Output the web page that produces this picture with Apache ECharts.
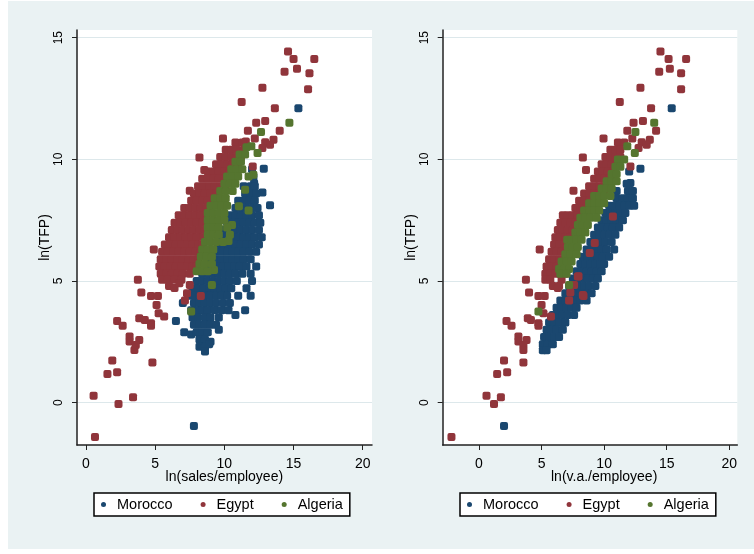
<!DOCTYPE html>
<html>
<head>
<meta charset="utf-8">
<script src="https://cdn.jsdelivr.net/npm/echarts@6/dist/echarts.min.js"></script>
<style>
  html, body { margin: 0; padding: 0; background: #fff; }
  #bg { position: absolute; left: 8px; top: 1px; width: 746px; height: 548px; background: #eaf2f3; }
  #chart { position: absolute; left: 0; top: 0; width: 754px; height: 554px; }
</style>
</head>
<body>
<div id="bg"></div>
<div id="chart"></div>
<script>
// legend / series names
var countries = ['Morocco', 'Egypt', 'Algeria'];
var xTicks = [0, 5, 10, 15, 20];
var yTicks = [0, 5, 10, 15];

// left panel: [ln(sales/employee), ln(TFP)]
var moroccoSales = [
  [15.35,12.1],[12.85,9.62],[12.15,9.03],[12.75,8.64],[13.3,8.12],[7.8,-0.96],[6.5,3.36],
  [12.0,9.6],[12.1,9.3],[11.4,8.9],[11.9,8.9],[12.2,8.9],[11.5,8.6],[11.9,8.6],[12.3,8.6],
  [11.0,8.3],[11.4,8.3],[11.8,8.3],[12.2,8.3],
  [10.8,8.0],[11.2,8.0],[11.6,8.0],[12.0,8.0],[12.4,8.0],
  [10.4,7.7],[10.8,7.7],[11.2,7.7],[11.6,7.7],[12.0,7.7],[12.5,7.7],
  [10.2,7.4],[10.6,7.4],[11.0,7.4],[11.4,7.4],[11.8,7.4],[12.2,7.4],[12.6,7.4],
  [10.0,7.1],[10.4,7.1],[10.8,7.1],[11.2,7.1],[11.6,7.1],[12.0,7.1],[12.5,7.1],
  [9.8,6.8],[10.2,6.8],[10.6,6.8],[11.0,6.8],[11.4,6.8],[11.8,6.8],[12.2,6.8],[12.7,6.8],
  [9.6,6.5],[10.0,6.5],[10.4,6.5],[10.8,6.5],[11.2,6.5],[11.6,6.5],[12.0,6.5],[12.5,6.5],
  [9.4,6.2],[9.8,6.2],[10.2,6.2],[10.6,6.2],[11.0,6.2],[11.4,6.2],[11.8,6.2],[12.3,6.2],
  [9.0,5.9],[9.4,5.9],[9.8,5.9],[10.2,5.9],[10.6,5.9],[11.0,5.9],[11.4,5.9],[11.9,5.9],
  [8.7,5.6],[9.1,5.6],[9.5,5.6],[9.9,5.6],[10.3,5.6],[10.7,5.6],[11.1,5.6],[11.6,5.6],[12.3,5.6],
  [8.4,5.3],[8.8,5.3],[9.2,5.3],[9.6,5.3],[10.0,5.3],[10.4,5.3],[10.8,5.3],[11.3,5.3],[11.9,5.3],
  [8.0,5.0],[8.4,5.0],[8.8,5.0],[9.2,5.0],[9.6,5.0],[10.0,5.0],[10.4,5.0],[10.9,5.0],[12.0,5.0],
  [7.7,4.7],[8.1,4.7],[8.5,4.7],[8.9,4.7],[9.3,4.7],[9.7,4.7],[10.1,4.7],[10.5,4.7],[11.6,4.7],
  [7.4,4.4],[7.8,4.4],[8.2,4.4],[8.6,4.4],[9.0,4.4],[9.4,4.4],[9.8,4.4],[10.2,4.4],[11.0,4.4],[11.9,4.4],
  [7.0,4.1],[7.8,4.1],[8.2,4.1],[8.6,4.1],[9.0,4.1],[9.4,4.1],[9.9,4.1],[10.4,4.1],
  [7.6,3.8],[8.0,3.8],[8.4,3.8],[8.8,3.8],[9.3,3.8],[9.8,3.8],[10.3,3.8],[11.5,3.8],
  [7.7,3.5],[8.1,3.5],[8.6,3.5],[9.0,3.5],[9.6,3.5],[10.8,3.6],
  [7.8,3.2],[8.2,3.2],[8.6,3.2],[9.0,3.2],[9.4,3.2],
  [7.1,2.9],[7.6,2.8],[8.0,2.9],[8.4,2.9],[8.8,2.9],[9.6,3.0],
  [8.2,2.6],[8.6,2.6],[9.0,2.5],[8.2,2.3],[8.6,2.3],[8.9,2.4],[8.6,2.1]
];
var egyptSales = [
  [14.6,14.44],[15.0,14.13],[16.5,14.13],[14.35,13.6],[15.25,13.73],[16.15,13.54],[16.05,12.88],
  [12.75,12.95],[11.25,12.36],[13.65,12.1],[12.3,11.51],[12.95,11.58],[11.7,11.18],[14.0,11.18],
  [12.2,10.86],[9.9,10.86],[12.95,10.71],[13.55,10.81],[13.3,10.6],[12.75,10.47],[8.2,10.08],
  [8.55,9.56],[7.5,8.71],[4.9,6.3],[12.05,9.71],[11.55,10.74],
  [10.8,10.7],[11.3,10.7],
  [10.1,10.4],[10.5,10.4],[10.9,10.4],[11.4,10.4],
  [9.7,10.1],[10.1,10.1],[10.5,10.1],[10.9,10.1],[11.2,10.1],
  [9.4,9.8],[9.8,9.8],[10.2,9.8],[10.6,9.8],[11.0,9.8],
  [8.8,9.5],[9.2,9.5],[9.6,9.5],[10.0,9.5],[10.4,9.5],[10.8,9.5],
  [8.4,9.2],[8.8,9.2],[9.2,9.2],[9.6,9.2],[10.0,9.2],[10.4,9.2],
  [8.1,8.9],[8.5,8.9],[8.9,8.9],[9.3,8.9],[9.7,8.9],[10.1,8.9],
  [7.8,8.6],[8.2,8.6],[8.6,8.6],[9.0,8.6],[9.4,8.6],
  [7.6,8.3],[8.0,8.3],[8.4,8.3],[8.8,8.3],[9.2,8.3],
  [7.1,8.0],[7.5,8.0],[7.9,8.0],[8.3,8.0],[8.7,8.0],[9.0,8.0],
  [6.7,7.7],[7.1,7.7],[7.5,7.7],[7.9,7.7],[8.3,7.7],[8.7,7.7],
  [6.4,7.4],[6.8,7.4],[7.2,7.4],[7.6,7.4],[8.0,7.4],[8.4,7.4],[8.7,7.4],
  [6.2,7.1],[6.6,7.1],[7.0,7.1],[7.4,7.1],[7.8,7.1],[8.2,7.1],[8.6,7.1],
  [6.0,6.8],[6.4,6.8],[6.8,6.8],[7.2,6.8],[7.6,6.8],[8.0,6.8],[8.5,6.8],
  [5.7,6.5],[6.1,6.5],[6.5,6.5],[6.9,6.5],[7.3,6.5],[7.7,6.5],[8.1,6.5],[8.4,6.5],
  [5.5,6.2],[5.9,6.2],[6.3,6.2],[6.7,6.2],[7.1,6.2],[7.5,6.2],[7.9,6.2],[8.3,6.2],
  [5.4,5.9],[5.8,5.9],[6.2,5.9],[6.6,5.9],[7.0,5.9],[7.4,5.9],[7.8,5.9],[8.1,5.9],
  [5.3,5.6],[5.7,5.6],[6.1,5.6],[6.5,5.6],[6.9,5.6],[7.3,5.6],[7.7,5.6],[8.0,5.6],
  [5.4,5.3],[5.8,5.3],[6.2,5.3],[6.6,5.3],[7.0,5.3],[7.5,5.3],
  [5.5,5.05],[5.9,5.05],[6.4,5.05],[6.9,5.05],[6.0,4.8],[7.5,4.84],
  [6.4,4.71],[6.75,4.91],[7.15,4.2],[7.3,4.5],[8.3,4.39],
  [3.75,5.05],[4.0,4.53],[4.7,4.39],[5.2,4.39],[5.1,4.02],[5.25,3.68],[5.65,3.54],
  [3.85,3.47],[4.25,3.4],[4.7,3.27],[4.7,3.16],[2.25,3.36],[2.65,3.16],[3.15,2.72],
  [3.15,2.51],[3.85,2.58],[3.6,2.37],[3.5,2.17],[1.9,1.73],[4.8,1.65],[1.55,1.18],
  [2.25,1.25],[0.55,0.28],[3.4,0.22],[2.35,-0.05],[0.65,-1.41]
];
var algeriaSales = [
  [14.7,11.51],[12.65,11.13],[12.4,10.26],[11.95,10.54],[7.6,3.75],[9.1,4.84],
  [12.1,9.37],[11.75,9.3],[11.5,8.75],[11.05,8.07],[11.75,7.9],[10.55,7.3],[10.3,6.65],[9.25,5.45],
  [11.6,10.5],[11.1,10.2],[11.5,10.2],[10.8,9.9],[11.2,9.9],
  [10.5,9.6],[10.9,9.6],[11.3,9.6],[10.2,9.3],[10.6,9.3],[11.0,9.3],
  [10.0,9.0],[10.4,9.0],[10.8,9.0],[9.7,8.7],[10.1,8.7],[10.6,8.7],
  [9.3,8.4],[9.7,8.4],[10.1,8.4],[9.0,8.1],[9.4,8.1],[9.8,8.1],[10.2,8.1],
  [8.8,7.8],[9.2,7.8],[9.6,7.8],[10.0,7.8],[8.8,7.5],[9.2,7.5],[9.6,7.5],[10.0,7.5],
  [8.8,7.2],[9.2,7.2],[9.6,7.2],[10.2,7.2],[8.8,6.9],[9.2,6.9],[9.6,6.9],[10.4,6.9],
  [8.6,6.6],[9.0,6.6],[9.4,6.6],[9.9,6.6],[8.4,6.3],[8.8,6.3],[9.2,6.3],
  [8.3,6.0],[8.7,6.0],[9.1,6.0],[8.2,5.7],[8.6,5.7],[9.1,5.7],[8.0,5.4],[8.4,5.4],[8.8,5.4]
];

// right panel: [ln(v.a./employee), ln(TFP)]
var moroccoVA = [
  [15.4,12.1],[12.9,9.62],[12.1,9.03],[2.0,-0.96],
  [12.0,9.5],[11.8,9.0],[11.0,8.7],[11.9,8.7],[12.3,8.7],
  [11.0,8.4],[11.5,8.4],[11.9,8.4],[12.3,8.4],
  [10.4,8.1],[10.8,8.1],[11.2,8.1],[11.6,8.1],[12.0,8.1],[12.4,8.1],
  [10.1,7.8],[10.5,7.8],[10.9,7.8],[11.3,7.8],[11.7,7.8],
  [9.8,7.5],[10.2,7.5],[10.6,7.5],[11.0,7.5],[11.5,7.5],
  [9.5,7.2],[9.9,7.2],[10.3,7.2],[10.7,7.2],[11.2,7.2],
  [9.2,6.9],[9.6,6.9],[10.0,6.9],[10.4,6.9],[10.9,6.9],
  [8.9,6.6],[9.3,6.6],[9.7,6.6],[10.1,6.6],[10.6,6.6],
  [8.6,6.3],[9.0,6.3],[9.4,6.3],[9.8,6.3],[10.2,6.3],[10.8,6.3],
  [8.3,6.0],[8.7,6.0],[9.1,6.0],[9.5,6.0],[9.9,6.0],[10.4,6.0],
  [8.1,5.7],[8.5,5.7],[8.9,5.7],[9.3,5.7],[9.7,5.7],[10.0,5.7],
  [7.8,5.4],[8.2,5.4],[8.6,5.4],[9.0,5.4],[9.4,5.4],[9.8,5.4],
  [7.5,5.1],[7.9,5.1],[8.3,5.1],[8.7,5.1],[9.1,5.1],[9.5,5.1],
  [7.2,4.8],[7.6,4.8],[8.0,4.8],[8.4,4.8],[8.8,4.8],[9.3,4.8],
  [6.9,4.5],[7.3,4.5],[7.7,4.5],[8.1,4.5],[8.5,4.5],[9.0,4.5],
  [6.5,4.2],[6.9,4.2],[7.3,4.2],[7.7,4.2],[8.1,4.2],[8.6,4.2],
  [6.2,3.9],[6.6,3.9],[7.0,3.9],[7.4,3.9],[7.8,3.9],
  [5.9,3.6],[6.3,3.6],[6.7,3.6],[7.1,3.6],[7.6,3.6],
  [5.6,3.3],[6.0,3.3],[6.4,3.3],[6.9,3.3],
  [5.4,3.0],[5.8,3.0],[6.2,3.0],[6.7,3.0],
  [5.2,2.7],[5.6,2.7],[6.0,2.7],[6.4,2.7],
  [5.1,2.4],[5.5,2.4],[5.9,2.4],[5.1,2.15],[5.4,2.15]
];
var egyptVA = [
  [14.5,14.44],[15.15,14.13],[16.55,14.13],[14.4,13.6],[15.25,13.73],[16.15,13.54],[16.15,12.88],
  [12.9,12.95],[11.25,12.36],[13.75,12.1],[12.35,11.51],[13.1,11.58],[11.85,11.18],[14.15,11.18],
  [12.25,10.86],[9.95,10.86],[13.0,10.71],[13.65,10.81],[13.4,10.6],[12.75,10.47],[8.3,10.08],
  [8.55,9.56],[7.55,8.71],[4.85,6.3],[12.1,9.71],
  [11.1,10.7],[11.6,10.7],[10.5,10.4],[10.9,10.4],[11.3,10.4],
  [10.1,10.1],[10.5,10.1],[10.9,10.1],[11.3,10.1],
  [9.8,9.8],[10.2,9.8],[10.6,9.8],[11.0,9.8],
  [9.5,9.5],[9.9,9.5],[10.3,9.5],[10.7,9.5],
  [9.2,9.2],[9.6,9.2],[10.0,9.2],[10.4,9.2],[10.8,9.2],
  [8.8,8.9],[9.2,8.9],[9.6,8.9],[10.0,8.9],[10.4,8.9],
  [8.4,8.6],[8.8,8.6],[9.2,8.6],[9.6,8.6],[10.0,8.6],
  [8.0,8.3],[8.4,8.3],[8.8,8.3],[9.2,8.3],[9.6,8.3],
  [7.7,8.0],[8.1,8.0],[8.5,8.0],[8.9,8.0],[9.3,8.0],
  [6.7,7.7],[7.1,7.7],[7.5,7.7],[7.9,7.7],[8.3,7.7],
  [6.5,7.4],[6.9,7.4],[7.3,7.4],[7.7,7.4],[8.1,7.4],
  [6.3,7.1],[6.7,7.1],[7.1,7.1],[7.5,7.1],[7.9,7.1],
  [6.1,6.8],[6.5,6.8],[6.9,6.8],[7.3,6.8],[7.7,6.8],
  [6.0,6.5],[6.4,6.5],[6.8,6.5],[7.2,6.5],[7.7,6.5],
  [5.8,6.2],[6.2,6.2],[6.6,6.2],[7.0,6.2],[7.5,6.2],
  [5.6,5.9],[6.0,5.9],[6.4,5.9],[6.8,5.9],[7.2,5.9],
  [5.4,5.6],[5.8,5.6],[6.2,5.6],[6.6,5.6],[7.0,5.6],
  [5.3,5.3],[5.7,5.3],[6.1,5.3],[6.5,5.3],[6.9,5.3],
  [5.3,5.05],[5.7,5.05],[6.6,5.05],[5.9,4.8],[6.4,4.8],
  [7.6,4.84],[7.3,4.53],[7.2,4.2],[8.35,4.39],[7.9,5.19],[6.3,4.71],
  [10.7,7.65],[9.25,6.56],[8.85,6.15],[7.95,5.2],[8.3,4.43],[5.75,3.54],
  [3.75,5.05],[4.0,4.53],[4.75,4.39],[5.25,4.39],[5.0,4.02],[5.15,3.68],
  [3.9,3.47],[4.15,3.4],[4.75,3.27],[4.75,3.16],[2.2,3.36],[2.6,3.16],[3.15,2.72],
  [3.15,2.51],[3.8,2.58],[3.55,2.37],[3.55,2.17],[2.0,1.73],[3.55,1.65],[1.45,1.18],
  [2.25,1.25],[0.6,0.28],[1.75,0.22],[1.2,-0.05],[-2.2,-1.41]
];
var algeriaVA = [
  [14.0,11.51],[12.5,11.13],[12.45,10.26],[11.85,10.54],[4.75,3.75],[7.2,4.84],[7.05,6.7],
  [11.1,10.0],[11.6,10.0],[10.9,9.7],[11.3,9.7],[10.6,9.4],[11.0,9.4],
  [10.2,9.1],[10.6,9.1],[11.0,9.1],[9.8,8.8],[10.2,8.8],[10.6,8.8],
  [9.2,8.5],[9.6,8.5],[10.0,8.5],[10.5,8.5],[8.8,8.2],[9.2,8.2],[9.6,8.2],[10.0,8.2],
  [8.4,7.9],[8.8,7.9],[9.2,7.9],[9.6,7.9],[8.1,7.6],[8.5,7.6],[8.9,7.6],[9.4,7.6],
  [7.9,7.3],[8.3,7.3],[8.7,7.3],[7.7,7.0],[8.1,7.0],[8.5,7.0],
  [7.4,6.7],[7.8,6.7],[8.2,6.7],[7.1,6.4],[7.5,6.4],[7.9,6.4],
  [6.9,6.1],[7.3,6.1],[7.8,6.1],[6.6,5.8],[7.0,5.8],[7.4,5.8],
  [6.4,5.5],[6.8,5.5],[7.2,5.5],[6.5,5.3],[7.0,5.3]
];

var colors = ['#1a476f', '#90353b', '#55752f'];
var font = 'Liberation Sans, Arial, sans-serif';
var axisColor = '#222';

// pixel layout of each panel: data grid, x tick grid (0..20), y tick grid (0..15)
function panelGrids(left, right, x0px, x20px) {
  var top = 30, bottom = 445;
  return [
    { left: left, top: top, width: right - left, height: bottom - top, show: true, backgroundColor: '#fff', borderWidth: 0 },
    { left: x0px, top: top, width: x20px - x0px, height: bottom - top },
    { left: left, top: 37.7, width: right - left, height: 402.7 - 37.7 }
  ];
}

function panelAxes(xmin, xmax, xName) {
  var xAxes = [
    { type: 'value', min: xmin, max: xmax, axisLine: { onZero: false, lineStyle: { color: axisColor, width: 1.5 } },
      axisTick: { show: false }, axisLabel: { show: false }, splitLine: { show: false } },
    { type: 'value', min: xTicks[0], max: xTicks[xTicks.length - 1], interval: xTicks[1] - xTicks[0],
      axisLine: { show: false },
      axisTick: { length: 5, lineStyle: { color: axisColor, width: 1 } },
      axisLabel: { margin: 12, fontSize: 14, color: '#000', fontFamily: font },
      splitLine: { show: false },
      name: xName, nameLocation: 'middle', nameGap: 25, nameMoveOverlap: false,
      nameTextStyle: { fontSize: 14, color: '#000', fontFamily: font } },
    { type: 'value', show: false, min: 0, max: 1 }
  ];
  var yAxes = [
    { type: 'value', min: -1.74, max: 15.32, axisLine: { show: true, onZero: false, lineStyle: { color: axisColor, width: 1.5 } },
      axisTick: { show: false }, axisLabel: { show: false }, splitLine: { show: false },
      name: 'ln(TFP)', nameLocation: 'middle', nameGap: 25,
      nameTextStyle: { fontSize: 14, color: '#000', fontFamily: font } },
    { type: 'value', show: false, min: 0, max: 1 },
    { type: 'value', min: yTicks[0], max: yTicks[yTicks.length - 1], interval: yTicks[1] - yTicks[0],
      axisLine: { show: false },
      axisTick: { length: 5, lineStyle: { color: axisColor, width: 1 } },
      axisLabel: { rotate: 90, margin: 12, fontSize: 12, color: '#000', fontFamily: font },
      splitLine: { show: true, lineStyle: { color: '#dde8eb', width: 1.2 } } }
  ];
  return { x: xAxes, y: yAxes };
}

var leftGrids = panelGrids(77, 372, 86, 362.7);
var rightGrids = panelGrids(442.7, 737.3, 479, 729.3);
var leftAxes = panelAxes(-0.65, 20.67, 'ln(sales/employee)');
var rightAxes = panelAxes(-2.9, 20.64, 'ln(v.a./employee)');

var xAxis = leftAxes.x.concat(rightAxes.x);
var yAxis = leftAxes.y.concat(rightAxes.y);
xAxis.forEach(function (a, i) { a.gridIndex = i; });
yAxis.forEach(function (a, i) { a.gridIndex = i; });

function scatter(name, data, color, axisIdx) {
  return {
    name: name, type: 'scatter', data: data,
    xAxisIndex: axisIdx, yAxisIndex: axisIdx,
    symbol: 'roundRect', symbolSize: 8,
    itemStyle: { color: color, opacity: 1 },
    emphasis: { disabled: true }
  };
}

var series = [
  scatter(countries[0], moroccoSales, colors[0], 0),
  scatter(countries[1], egyptSales, colors[1], 0),
  scatter(countries[2], algeriaSales, colors[2], 0),
  scatter(countries[0], moroccoVA, colors[0], 3),
  scatter(countries[1], egyptVA, colors[1], 3),
  scatter(countries[2], algeriaVA, colors[2], 3)
];

function legendAt(left) {
  return {
    data: countries, left: left, top: 493, orient: 'horizontal',
    icon: 'circle', itemWidth: 5, itemHeight: 5, itemGap: 28,
    padding: [4, 7, 4, 7],
    backgroundColor: '#fff', borderColor: '#000', borderWidth: 1.5, borderRadius: 0,
    selectedMode: false,
    textStyle: { fontSize: 14.5, color: '#000', fontFamily: font, padding: [0, 0, 0, 6] }
  };
}

var myChart = echarts.init(document.getElementById('chart'), null, { renderer: 'canvas' });
var option = {
  animation: false,
  color: colors,
  textStyle: { fontFamily: font },
  grid: leftGrids.concat(rightGrids),
  xAxis: xAxis,
  yAxis: yAxis,
  legend: [legendAt(94), legendAt(460)],
  series: series
};
myChart.setOption(option);
window.addEventListener('resize', function () { myChart.resize(); });
</script>
</body>
</html>
